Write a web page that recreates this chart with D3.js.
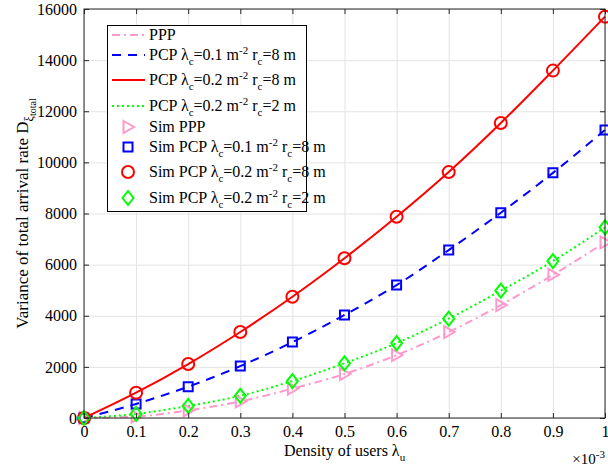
<!DOCTYPE html>
<html>
<head>
<meta charset="utf-8">
<script src="https://cdn.jsdelivr.net/npm/d3@7/dist/d3.min.js"></script>
<style>
  body { margin: 0; background: #fff; }
  text { font-family: "Liberation Serif", "Times New Roman", serif; fill: #000; }
</style>
</head>
<body>
<div id="grafico"></div>
<script>
// Density of users (in units of 1e-3)
const densidade = [0, 0.1, 0.2, 0.3, 0.4, 0.5, 0.6, 0.7, 0.8, 0.9, 1];

// Variance of total arrival rate
const ppp      = [0, 60, 300, 650, 1150, 1720, 2460, 3360, 4420, 5600, 6870];
const pcp01_8  = [0, 550, 1225, 2030, 2970, 4030, 5200, 6570, 8030, 9590, 11270];
const pcp02_8  = [0, 990, 2110, 3365, 4745, 6250, 7870, 9620, 11540, 13590, 15700];
const pcp02_2  = [0, 160, 470, 870, 1445, 2140, 2930, 3885, 4980, 6140, 7460];

const xTicks = [0, 0.1, 0.2, 0.3, 0.4, 0.5, 0.6, 0.7, 0.8, 0.9, 1];
const yTicks = [0, 2000, 4000, 6000, 8000, 10000, 12000, 14000, 16000];

const largura = 608, altura = 472;
const margem = { topo: 9, direita: 3, baixo: 54, esquerda: 84 };
const w = largura - margem.esquerda - margem.direita;
const h = altura - margem.topo - margem.baixo;
const fonte = '"Liberation Serif", "Times New Roman", serif';

const svg = d3.select('#grafico').append('svg')
  .attr('width', largura).attr('height', altura);

const g = svg.append('g')
  .attr('transform', `translate(${margem.esquerda},${margem.topo})`);

const escalaX = d3.scaleLinear().domain([0, 1]).range([0, w]);
const escalaY = d3.scaleLinear().domain([0, 16000]).range([h, 0]);

// grid
g.append('g').attr('transform', `translate(0,${h})`)
  .call(d3.axisBottom(escalaX).tickValues(xTicks).tickSize(-h).tickFormat(''))
  .call(s => s.select('.domain').remove())
  .call(s => s.selectAll('line').attr('stroke', '#e3e3e3'));
g.append('g')
  .call(d3.axisLeft(escalaY).tickValues(yTicks).tickSize(-w).tickFormat(''))
  .call(s => s.select('.domain').remove())
  .call(s => s.selectAll('line').attr('stroke', '#e3e3e3'));

// series
const series = [
  { dados: ppp, cor: '#ff99cc', dash: '8,4,2,4', marca: 'tri' },
  { dados: pcp01_8, cor: '#0000ff', dash: '9,7', marca: 'sq' },
  { dados: pcp02_8, cor: '#ff0000', dash: null, marca: 'circ' },
  { dados: pcp02_2, cor: '#00ff00', dash: '2,3', marca: 'dia' }
];

const linha = d3.line()
  .x((d, i) => escalaX(densidade[i]))
  .y(d => escalaY(d))
  .curve(d3.curveMonotoneX);

series.forEach(s => {
  g.append('path').datum(s.dados)
    .attr('fill', 'none')
    .attr('stroke', s.cor)
    .attr('stroke-width', 2)
    .attr('stroke-dasharray', s.dash)
    .attr('d', linha);
});

function desenhaMarca(sel, tipo, cor) {
  sel.attr('fill', 'none').attr('stroke', cor).attr('stroke-width', 2);
  if (tipo === 'tri') sel.attr('d', 'M-4.5,-6L6,0L-4.5,6Z');
  if (tipo === 'sq') sel.attr('d', 'M-4.5,-4.5H4.5V4.5H-4.5Z');
  if (tipo === 'circ') sel.attr('d', d3.symbol(d3.symbolCircle, 113)());
  if (tipo === 'dia') sel.attr('d', 'M0,-7L5.5,0L0,7L-5.5,0Z');
}

series.forEach(s => {
  g.append('g').selectAll('path').data(s.dados).join('path')
    .attr('transform', (d, i) => `translate(${escalaX(densidade[i])},${escalaY(d)})`)
    .each(function() { desenhaMarca(d3.select(this), s.marca, s.cor); });
});

// axes (ticks inside, box)
const corEixo = '#262626';
const fmtX = d => d === 0 ? '0' : d === 1 ? '1' : d3.format('.1f')(d);
const eixos = g.append('g');
eixos.append('g').attr('transform', `translate(0,${h})`)
  .call(d3.axisBottom(escalaX).tickValues(xTicks).tickSizeInner(-5).tickSizeOuter(0).tickPadding(8).tickFormat(fmtX));
eixos.append('g')
  .call(d3.axisLeft(escalaY).tickValues(yTicks).tickSizeInner(-5).tickSizeOuter(0).tickPadding(7).tickFormat(d3.format('d')));
eixos.append('g')
  .call(d3.axisTop(escalaX).tickValues(xTicks).tickSizeInner(-5).tickSizeOuter(0).tickFormat(''));
eixos.append('g').attr('transform', `translate(${w},0)`)
  .call(d3.axisRight(escalaY).tickValues(yTicks).tickSizeInner(-5).tickSizeOuter(0).tickFormat(''));
eixos.selectAll('.domain').remove();
eixos.selectAll('g').attr('font-family', fonte).attr('font-size', 16);
eixos.selectAll('.tick line').attr('stroke', corEixo);
eixos.selectAll('.tick text').attr('fill', '#000');

g.append('rect').attr('width', w).attr('height', h)
  .attr('fill', 'none').attr('stroke', corEixo).attr('stroke-width', 1);

// axis labels
const xl = svg.append('text')
  .attr('x', margem.esquerda + w / 2).attr('y', 456)
  .attr('text-anchor', 'middle').style('font-size', '16px');
xl.append('tspan').text('Density of users λ');
xl.append('tspan').attr('dy', 5).style('font-size', '11px').text('u');

const fator = svg.append('text').attr('x', 605).attr('y', 464)
  .attr('text-anchor', 'end').style('font-size', '15px');
fator.append('tspan').text('×10');
fator.append('tspan').attr('dy', -6).style('font-size', '11px').text('-3');

const yl = svg.append('text')
  .attr('transform', `translate(28,${margem.topo + h / 2}) rotate(-90)`)
  .attr('text-anchor', 'middle').style('font-size', '17px');
yl.append('tspan').text('Variance of total arrival rate D');
yl.append('tspan').attr('dy', 5).style('font-size', '12px').text('ξ');
yl.append('tspan').attr('dy', 3).style('font-size', '10px').text('total');

// legend
const legenda = [
  { serie: 0, tipo: 'linha', y: 35, txt: ['PPP'] },
  { serie: 1, tipo: 'linha', y: 55, txt: ['PCP λ', 'c', '=0.1 m', '-2', ' r', 'c', '=8 m'] },
  { serie: 2, tipo: 'linha', y: 80, txt: ['PCP λ', 'c', '=0.2 m', '-2', ' r', 'c', '=8 m'] },
  { serie: 3, tipo: 'linha', y: 106, txt: ['PCP λ', 'c', '=0.2 m', '-2', ' r', 'c', '=2 m'] },
  { serie: 0, tipo: 'marca', y: 127, txt: ['Sim PPP'] },
  { serie: 1, tipo: 'marca', y: 147, txt: ['Sim PCP λ', 'c', '=0.1 m', '-2', ' r', 'c', '=8 m'] },
  { serie: 2, tipo: 'marca', y: 172, txt: ['Sim PCP λ', 'c', '=0.2 m', '-2', ' r', 'c', '=8 m'] },
  { serie: 3, tipo: 'marca', y: 198, txt: ['Sim PCP λ', 'c', '=0.2 m', '-2', ' r', 'c', '=2 m'] }
];

const leg = svg.append('g');
leg.append('rect').attr('x', 107.5).attr('y', 25.5).attr('width', 199).attr('height', 186)
  .attr('fill', '#fff').attr('stroke', '#000').attr('stroke-width', 1);

legenda.forEach(item => {
  const s = series[item.serie];
  if (item.tipo === 'linha') {
    leg.append('line').attr('x1', 112).attr('x2', 145).attr('y1', item.y).attr('y2', item.y)
      .attr('stroke', s.cor).attr('stroke-width', 2).attr('stroke-dasharray', s.dash);
  } else {
    leg.append('path').attr('transform', `translate(128,${item.y})`)
      .each(function() { desenhaMarca(d3.select(this), s.marca, s.cor); });
  }
  const t = leg.append('text').attr('x', 149).attr('y', item.y + 5).style('font-size', '16px');
  // parts: normal, sub, normal, sup, normal, sub, normal
  const shifts = [0, 5, -5, -6, 6, 5, -5];
  item.txt.forEach((p, i) => {
    const sp = t.append('tspan').text(p);
    if (i > 0) sp.attr('dy', shifts[i]);
    if (i === 1 || i === 3 || i === 5) sp.style('font-size', '11px');
  });
});
</script>
</body>
</html>
